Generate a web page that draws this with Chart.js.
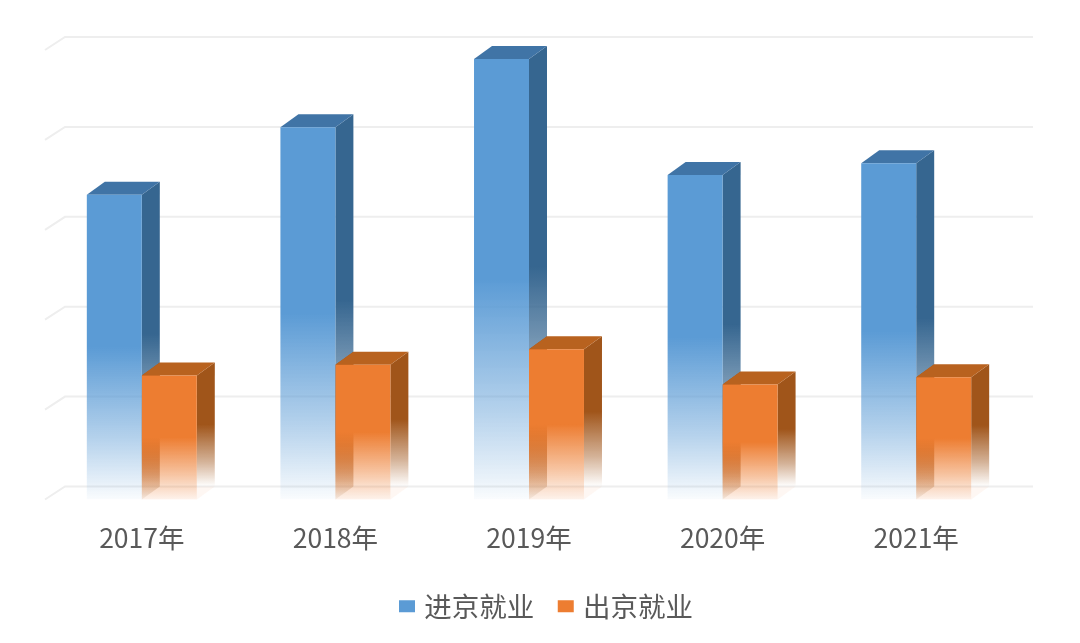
<!DOCTYPE html>
<html>
<head>
<meta charset="utf-8">
<style>
	html, body { margin: 0; padding: 0; background: #fff; overflow: hidden; }
	canvas { display: block; filter: blur(0.5px); }
</style>
<script src="https://cdn.jsdelivr.net/npm/chart.js@4/dist/chart.umd.min.js"></script>
</head>
<body>
<canvas id="c" width="1080" height="643"></canvas>
<script>
// values, value axis has no labels so 1 unit = 1 gridline step
var categories = ["2017年", "2018年", "2019年", "2020年", "2021年"];
var inbound = [3.39, 4.14, 4.90, 3.61, 3.74];
var outbound = [1.38, 1.50, 1.67, 1.28, 1.36];

var DX = 18, DY = 13;

function rgba(c, a){
	return "rgba(" + c[0] + "," + c[1] + "," + c[2] + "," + a + ")";
}

var looks = [
	{ front: [91,155,213], side: [54,102,144], top: [64,116,166], low: 0.03 },
	{ front: [237,125,49], side: [160,85,26], top: [184,98,31], low: 0.04, inner: true }
];

// solid on the upper half of the bar, washed out towards the foot
function fade(ctx, top, base, c, low){
	var g = ctx.createLinearGradient(0, top, 0, base);
	g.addColorStop(0, rgba(c, 1));
	g.addColorStop(0.5, rgba(c, 1));
	g.addColorStop(0.8, rgba(c, 0.45));
	g.addColorStop(1, rgba(c, low));
	return g;
}

function barFill(index){
	return function(context){
		var chart = context.chart;
		if(!chart.chartArea || context.parsed == null) return rgba(looks[index].front, 1);
		var y = chart.scales.y;
		return fade(chart.ctx, y.getPixelForValue(context.parsed.y), y.getPixelForValue(0), looks[index].front, looks[index].low);
	};
}

function poly(ctx, pts, fill){
	ctx.beginPath();
	ctx.moveTo(pts[0][0], pts[0][1]);
	for(var i = 1; i < pts.length; i++) ctx.lineTo(pts[i][0], pts[i][1]);
	ctx.closePath();
	ctx.fillStyle = fill;
	ctx.fill();
}

// grid first, then side and top faces, all hung on what the library laid out
var depth = {
	id: "depth",
	beforeDatasetsDraw: function(chart){
		var ctx = chart.ctx, y = chart.scales.y, area = chart.chartArea;
		ctx.save();
		ctx.strokeStyle = "#eeeeee";
		ctx.lineWidth = 2;
		y.ticks.forEach(function(t){
			var p = y.getPixelForValue(t.value);
			ctx.beginPath();
			ctx.moveTo(area.left, p);
			ctx.lineTo(area.left + 20, p - DY);
			ctx.lineTo(area.right + 20, p - DY);
			ctx.stroke();
		});
		looks.forEach(function(look, index){
			chart.getDatasetMeta(index).data.forEach(function(bar){
				var l = bar.x - bar.width / 2, r = bar.x + bar.width / 2, t = bar.y, b = bar.base;
				if(look.inner){
					poly(ctx, [[l, t], [l + DX, t - DY], [l + DX, b - DY], [l, b]], fade(ctx, t, b, look.side, 0.1));
					poly(ctx, [[l + DX, b - DY], [r + DX, b - DY], [r, b], [l, b]], rgba(look.front, 0.06));
				}
				poly(ctx, [[r, t], [r + DX, t - DY], [r + DX, b - DY], [r, b]], fade(ctx, t - DY, b - DY, look.side, 0));
				poly(ctx, [[l, t], [l + DX, t - DY], [r + DX, t - DY], [r, t]], rgba(look.top, 1));
			});
		});
		ctx.restore();
	}
};

var config = {
	type: "bar",
	data: {
		labels: categories,
		datasets: [
			{
				label: "进京就业",
				data: inbound,
				backgroundColor: barFill(0)
			},
			{
				label: "出京就业",
				data: outbound,
				backgroundColor: barFill(1)
			}
		]
	},
	options: {
		responsive: false,
		animation: false,
		layout: {
			padding: { left: 16.5, right: 0, top: 50, bottom: 13 }
		},
		datasets: {
			bar: { barPercentage: 1, categoryPercentage: 0.568 }
		},
		plugins: {
			tooltip: { enabled: false },
			legend: {
				position: "bottom",
				labels: {
					boxWidth: 7,
					boxHeight: 3,
					padding: 28,
					color: "#595959",
					font: { family: "'Noto Sans CJK SC'", size: 27.5 },
					generateLabels: function(chart){
						return chart.data.datasets.map(function(d, i){
							return {
								text: d.label,
								fillStyle: rgba(looks[i].front, 1),
								strokeStyle: rgba(looks[i].front, 1),
								lineWidth: 9,
								fontColor: "#595959",
								datasetIndex: i
							};
						});
					}
				}
			}
		},
		scales: {
			x: {
				grid: { display: false },
				border: { display: false },
				afterFit: function(scale){ scale.height = 65; },
				ticks: {
					padding: 15,
					color: "#595959",
					maxRotation: 0,
					font: { family: "'Noto Sans CJK SC'", size: 26.5 }
				}
			},
			y: {
				min: 0,
				max: 5,
				grid: { display: false },
				border: { display: false },
				afterFit: function(scale){ scale.width = 28.5; },
				ticks: { stepSize: 1, display: false }
			},
			spare: {
				position: "right",
				min: 0,
				max: 1,
				grid: { display: false },
				border: { display: false },
				afterFit: function(scale){ scale.width = 67; },
				ticks: { display: false }
			}
		}
	},
	plugins: [depth]
};

var myChart = new Chart(document.getElementById("c").getContext("2d"), config);
</script>
</body>
</html>
